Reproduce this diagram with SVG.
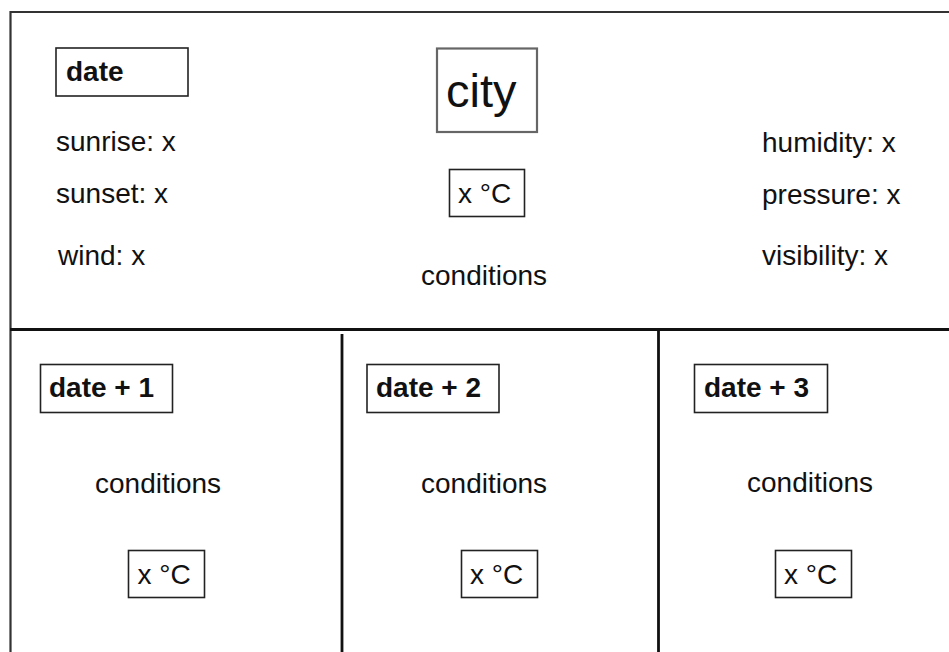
<svg xmlns="http://www.w3.org/2000/svg" width="949" height="652" viewBox="0 0 949 652">
<style>
text{font-family:"Liberation Sans",Arial,sans-serif;font-size:28px;fill:#111}
.b{font-weight:bold}
.box{fill:#fff;stroke:#222;stroke-width:1.6}
.frame{stroke:#333;stroke-width:2.2;fill:none}
.div{stroke:#111;stroke-width:2.8}
</style>
<rect width="949" height="652" fill="#fff"/>
<g id="connectors">
<path class="frame" d="M10.5 652 V12 H949"/>
<line class="div" x1="10" y1="329.5" x2="949" y2="329.5"/>
<line class="div" x1="342" y1="334" x2="342" y2="652"/>
<line class="div" x1="658.5" y1="330" x2="658.5" y2="652"/>
</g>
<g id="today-date"><rect class="box" x="56" y="48" width="132" height="48"/><text class="b" x="66" y="81">date</text></g>
<g id="sunrise"><text x="56" y="151">sunrise: x</text></g>
<g id="sunset"><text x="56" y="203">sunset: x</text></g>
<g id="wind"><text x="58" y="265">wind: x</text></g>
<g id="city"><rect x="437" y="48.5" width="100" height="83.5" fill="#fff" stroke="#666" stroke-width="2.2"/><text x="446" y="107" style="font-size:47px">city</text></g>
<g id="today-temp"><rect class="box" x="449.5" y="169.5" width="75" height="47"/><text x="458" y="203">x °C</text></g>
<g id="today-conditions"><text x="421" y="285">conditions</text></g>
<g id="humidity"><text x="762" y="152">humidity: x</text></g>
<g id="pressure"><text x="762" y="204">pressure: x</text></g>
<g id="visibility"><text x="762" y="265">visibility: x</text></g>
<g id="day1"><rect class="box" x="40.5" y="364.5" width="132" height="48"/><text class="b" x="49" y="397">date + 1</text>
<text x="95" y="493">conditions</text>
<rect class="box" x="128.5" y="550.5" width="76" height="47"/><text x="137.5" y="584">x °C</text></g>
<g id="day2"><rect class="box" x="367" y="364.5" width="132" height="48"/><text class="b" x="376" y="397">date + 2</text>
<text x="421" y="493">conditions</text>
<rect class="box" x="461.5" y="550.5" width="76" height="47"/><text x="470" y="584">x °C</text></g>
<g id="day3"><rect class="box" x="694.5" y="364.5" width="133" height="48"/><text class="b" x="704" y="397">date + 3</text>
<text x="747" y="492">conditions</text>
<rect class="box" x="775.5" y="550.5" width="76" height="47"/><text x="784" y="584">x °C</text></g>
</svg>
